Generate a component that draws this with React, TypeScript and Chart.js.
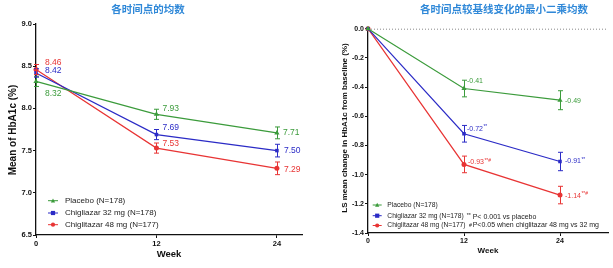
import React, { useEffect, useRef } from "react";
import { Chart, registerables } from "chart.js";

Chart.register(...registerables);

// ---------- data ----------
const weeks = [0, 12, 24];
const seriesNames = ["Placebo (N=178)", "Chigliazar 32 mg (N=178)", "Chiglitazar 48 mg (N=177)"];

const meanPlacebo = [8.32, 7.93, 7.71];
const meanCz32 = [8.42, 7.69, 7.5];
const meanCz48 = [8.46, 7.53, 7.29];
const meanErrPlacebo = [0.06, 0.06, 0.07];
const meanErrCz32 = [0.05, 0.06, 0.075];
const meanErrCz48 = [0.06, 0.06, 0.075];
const meanSig = [
  ["", "", ""],
  ["", "", ""],
  ["", "", ""],
];

const lsPlacebo = [0, -0.41, -0.49];
const lsCz32 = [0, -0.72, -0.91];
const lsCz48 = [0, -0.93, -1.14];
const lsErrPlacebo = [0, 0.057, 0.065];
const lsErrCz32 = [0, 0.057, 0.063];
const lsErrCz48 = [0, 0.057, 0.06];
const lsSig = [
  ["", "", ""],
  ["", "**", "**"],
  ["", "**#", "**#"],
];

const noteSymbols = ["**", "#"];
const noteTexts = ["P< 0.001 vs placebo", "P<0.05 when chiglitazar 48 mg vs 32 mg"];

// ---------- styles ----------
const colors = ["#3b9b3b", "#2b2bc6", "#e83434"];
const markers = ["triangle", "rect", "circle"];
const FONT = "'Liberation Sans', Arial, sans-serif";
const CJK = "'Noto Sans CJK SC', sans-serif";
const TITLE_COLOR = "#2f88d8";

type Panel = {
  title: string;
  titleX: number;
  yTitle: string;
  yTitleX: number;
  yTitleY: number;
  yTitleSize: number;
  weekY: number;
  weekSize: number;
  values: number[][];
  errors: number[][];
  sig: string[][];
  showFirst: boolean[];
  offsets: number[][][];
  labelSize: number;
  yMin: number;
  yMax: number;
  yStep: number;
  xMax: number;
  axisW: number;
  axisH: number;
  padTop: number;
  padRight: number;
  tickSize: number;
  legendX: number;
  legendLine: number;
  legendTextX: number;
  legendY: number[];
  legendSize: number;
  noteSyms: string[];
  noteSymX: number[];
  noteTxts: string[];
  notesX: number;
  notesY: number[];
  notesSize: number;
  zeroLine: boolean;
};

const leftPanel: Panel = {
  title: "各时间点的均数",
  titleX: 148,
  yTitle: "Mean of HbA1c (%)",
  yTitleX: 13,
  yTitleY: 130,
  yTitleSize: 10,
  weekY: 254,
  weekSize: 9.5,
  values: [meanPlacebo, meanCz32, meanCz48],
  errors: [meanErrPlacebo, meanErrCz32, meanErrCz48],
  sig: meanSig,
  showFirst: [true, true, true],
  offsets: [
    [[9, 12], [6, -6], [6, 0]],
    [[9, -2], [6, -7], [7, 0]],
    [[9, -7], [6, -4], [7, 1]],
  ],
  labelSize: 8.5,
  yMin: 6.5,
  yMax: 9.0,
  yStep: 0.5,
  xMax: 26.5,
  axisW: 36,
  axisH: 33,
  padTop: 24,
  padRight: 4,
  tickSize: 7.5,
  legendX: 48,
  legendLine: 10,
  legendTextX: 65,
  legendY: [200.7, 213, 224.7],
  legendSize: 8,
  noteSyms: [],
  noteSymX: [],
  noteTxts: [],
  notesX: 0,
  notesY: [],
  notesSize: 7,
  zeroLine: false,
};

const rightPanel: Panel = {
  title: "各时间点较基线变化的最小二乘均数",
  titleX: 198,
  yTitle: "LS mean change in HbA1c from baseline (%)",
  yTitleX: 39,
  yTitleY: 128,
  yTitleSize: 8,
  weekY: 251,
  weekSize: 8,
  values: [lsPlacebo, lsCz32, lsCz48],
  errors: [lsErrPlacebo, lsErrCz32, lsErrCz48],
  sig: lsSig,
  showFirst: [false, false, false],
  offsets: [
    [[0, 0], [3, -7], [5, 1]],
    [[0, 0], [3, -5], [5, 0]],
    [[0, 0], [4, -2], [5, 1]],
  ],
  labelSize: 7,
  yMin: -1.4,
  yMax: 0,
  yStep: 0.2,
  xMax: 30,
  axisW: 62,
  axisH: 35,
  padTop: 28.7,
  padRight: 5,
  tickSize: 7,
  legendX: 66.7,
  legendLine: 9,
  legendTextX: 81.3,
  legendY: [205, 215.7, 225.5],
  legendSize: 6.7,
  noteSyms: noteSymbols,
  noteSymX: [160.7, 163],
  noteTxts: noteTexts,
  notesX: 166.7,
  notesY: [216.7, 225.3],
  notesSize: 7,
  zeroLine: true,
};

function drawMarker(ctx: CanvasRenderingContext2D, kind: string, x: number, y: number, r: number, color: string) {
  ctx.save();
  ctx.fillStyle = color;
  ctx.beginPath();
  if (kind === "circle") {
    ctx.arc(x, y, r, 0, Math.PI * 2);
  } else if (kind === "rect") {
    ctx.rect(x - r, y - r, 2 * r, 2 * r);
  } else {
    ctx.moveTo(x, y - r * 1.1);
    ctx.lineTo(x + r, y + r * 0.8);
    ctx.lineTo(x - r, y + r * 0.8);
    ctx.closePath();
  }
  ctx.fill();
  ctx.restore();
}

function fmt(v: number) {
  if (Math.abs(v) < 1e-9) return "0.0";
  return v.toFixed(1);
}

function buildConfig(p: Panel): any {
  const plugin = {
    id: "panelDecor",
    beforeDatasetsDraw(chart: any) {
      if (!p.zeroLine) return;
      const { ctx, chartArea } = chart;
      const y = chart.scales.y.getPixelForValue(0);
      ctx.save();
      ctx.strokeStyle = "#888";
      ctx.lineWidth = 1;
      ctx.setLineDash([1, 2]);
      ctx.beginPath();
      ctx.moveTo(chartArea.left, y + 0.5);
      ctx.lineTo(chartArea.right, y + 0.5);
      ctx.stroke();
      ctx.restore();
    },
    afterDatasetsDraw(chart: any) {
      const ctx: CanvasRenderingContext2D = chart.ctx;
      const xs = chart.scales.x;
      const ys = chart.scales.y;
      // error bars
      p.values.forEach((vals, i) => {
        ctx.save();
        ctx.strokeStyle = colors[i];
        ctx.lineWidth = 1;
        vals.forEach((v, j) => {
          const e = p.errors[i][j];
          if (!e) return;
          const x = Math.round(xs.getPixelForValue(weeks[j])) + 0.5;
          const y1 = ys.getPixelForValue(v + e);
          const y2 = ys.getPixelForValue(v - e);
          ctx.beginPath();
          ctx.moveTo(x, y1);
          ctx.lineTo(x, y2);
          ctx.moveTo(x - 2.5, y1);
          ctx.lineTo(x + 2.5, y1);
          ctx.moveTo(x - 2.5, y2);
          ctx.lineTo(x + 2.5, y2);
          ctx.stroke();
        });
        ctx.restore();
      });
      // value labels
      p.values.forEach((vals, i) => {
        vals.forEach((v, j) => {
          if (j === 0 && !p.showFirst[i]) return;
          const [dx, dy] = p.offsets[i][j];
          const x = xs.getPixelForValue(weeks[j]) + dx;
          const y = ys.getPixelForValue(v) + dy;
          ctx.save();
          ctx.fillStyle = colors[i];
          ctx.textBaseline = "middle";
          ctx.textAlign = "left";
          ctx.font = `${p.labelSize}px ${FONT}`;
          const txt = v.toFixed(2);
          ctx.fillText(txt, x, y);
          const sup = p.sig[i][j];
          if (sup) {
            const w = ctx.measureText(txt).width;
            ctx.font = `${p.labelSize * 0.7}px ${FONT}`;
            ctx.fillText(sup, x + w + 0.5, y - 2);
          }
          ctx.restore();
        });
      });
    },
    afterDraw(chart: any) {
      const ctx: CanvasRenderingContext2D = chart.ctx;
      const ca = chart.chartArea;
      ctx.save();
      // title
      ctx.fillStyle = TITLE_COLOR;
      ctx.font = `bold 10.5px ${CJK}`;
      ctx.textAlign = "center";
      ctx.textBaseline = "middle";
      ctx.fillText(p.title, p.titleX, 9);
      // axis titles
      ctx.fillStyle = "#111";
      ctx.font = `bold ${p.weekSize}px ${FONT}`;
      ctx.fillText("Week", (ca.left + ca.right) / 2, p.weekY);
      ctx.save();
      ctx.translate(p.yTitleX, p.yTitleY);
      ctx.rotate(-Math.PI / 2);
      ctx.font = `bold ${p.yTitleSize}px ${FONT}`;
      ctx.fillText(p.yTitle, 0, 0);
      ctx.restore();
      // legend
      seriesNames.forEach((name, i) => {
        const y = p.legendY[i];
        ctx.strokeStyle = colors[i];
        ctx.lineWidth = 1;
        ctx.beginPath();
        ctx.moveTo(p.legendX, y);
        ctx.lineTo(p.legendX + p.legendLine, y);
        ctx.stroke();
        drawMarker(ctx, markers[i], p.legendX + p.legendLine / 2, y, 2.1, colors[i]);
        ctx.fillStyle = "#222";
        ctx.textAlign = "left";
        ctx.font = `${p.legendSize}px ${FONT}`;
        ctx.fillText(name, p.legendTextX, y);
      });
      // notes
      p.noteTxts.forEach((n, i) => {
        ctx.fillStyle = "#222";
        ctx.textAlign = "left";
        ctx.font = `${p.notesSize * 0.75}px ${FONT}`;
        ctx.fillText(p.noteSyms[i], p.noteSymX[i], p.notesY[i] - (i === 0 ? 1 : 0));
        ctx.font = `${p.notesSize}px ${FONT}`;
        ctx.fillText(n, p.notesX, p.notesY[i]);
      });
      ctx.restore();
    },
  };

  return {
    type: "line",
    data: {
      datasets: p.values.map((vals, i) => ({
        label: seriesNames[i],
        data: vals.map((v, j) => ({ x: weeks[j], y: v })),
        borderColor: colors[i],
        backgroundColor: colors[i],
        borderWidth: 1.2,
        pointStyle: markers[i],
        pointRadius: markers[i] === "triangle" ? 3 : 2.5,
        pointBorderWidth: 0,
        tension: 0,
        clip: false,
      })),
    },
    options: {
      responsive: false,
      animation: false,
      layout: { padding: { left: 0, top: p.padTop, right: p.padRight, bottom: 0 } },
      plugins: { legend: { display: false }, tooltip: { enabled: false }, title: { display: false } },
      scales: {
        x: {
          type: "linear",
          min: 0,
          max: p.xMax,
          afterBuildTicks: (s: any) => {
            s.ticks = weeks.map((w) => ({ value: w }));
          },
          afterFit: (s: any) => {
            s.height = p.axisH;
          },
          ticks: {
            color: "#111",
            font: { family: FONT, size: p.tickSize, weight: "bold" },
            padding: 1,
            maxRotation: 0,
            autoSkip: false,
            callback: (v: any) => String(v),
          },
          grid: { display: true, drawOnChartArea: false, drawTicks: true, tickLength: 3, color: "#111" },
          border: { display: true, color: "#111", width: 1.3 },
        },
        y: {
          type: "linear",
          min: p.yMin,
          max: p.yMax,
          afterFit: (s: any) => {
            s.width = p.axisW;
          },
          ticks: {
            stepSize: p.yStep,
            color: "#111",
            font: { family: FONT, size: p.tickSize, weight: "bold" },
            padding: 1,
            callback: (v: any) => fmt(Number(v)),
          },
          grid: { display: true, drawOnChartArea: false, drawTicks: true, tickLength: 3, color: "#111" },
          border: { display: true, color: "#111", width: 1.3 },
        },
      },
    },
    plugins: [plugin],
  };
}

export default function App() {
  const leftRef = useRef<HTMLCanvasElement>(null);
  const rightRef = useRef<HTMLCanvasElement>(null);
  useEffect(() => {
    const c1 = new Chart(leftRef.current as HTMLCanvasElement, buildConfig(leftPanel));
    const c2 = new Chart(rightRef.current as HTMLCanvasElement, buildConfig(rightPanel));
    return () => {
      c1.destroy();
      c2.destroy();
    };
  }, []);
  return (
    <div style={{ position: "fixed", left: 0, top: 0, width: 613, height: 268, background: "#fff" }}>
      <canvas ref={leftRef} width={306} height={268} style={{ position: "absolute", left: 0, top: 0, width: 306, height: 268 }} />
      <canvas ref={rightRef} width={307} height={268} style={{ position: "absolute", left: 306, top: 0, width: 307, height: 268 }} />
    </div>
  );
}
